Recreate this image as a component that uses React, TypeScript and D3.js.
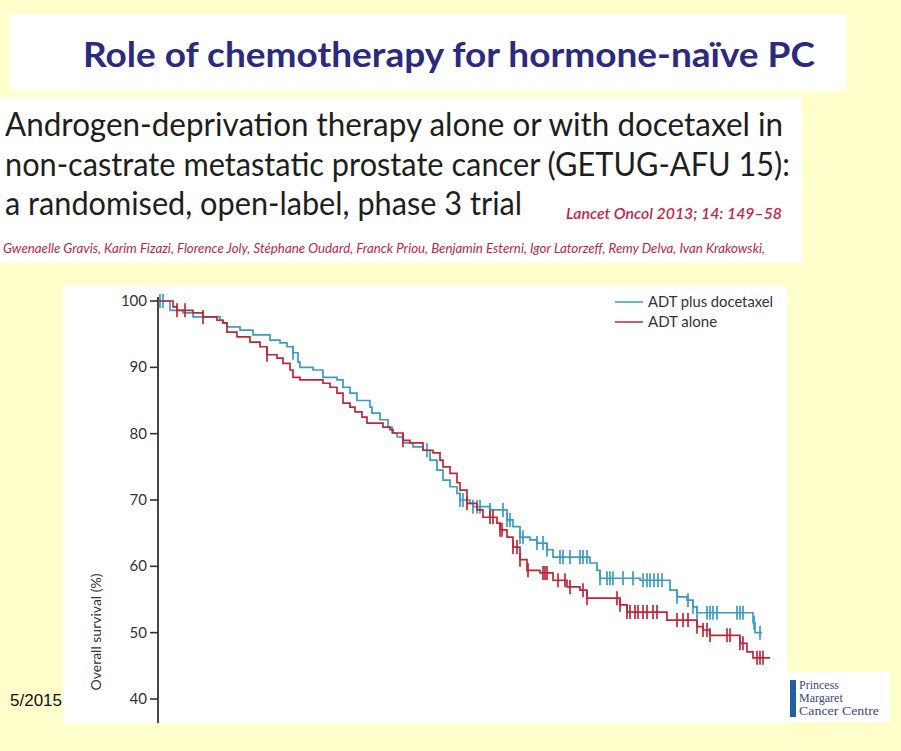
import React from "react";
import * as d3 from "d3";

// ---- Data (time in months, survival in %) ----
const seriesNames = ["ADT plus docetaxel", "ADT alone"];
const yTicks = [40, 50, 60, 70, 80, 90, 100];

const docetaxelSteps: [number, number][] = [
  [0, 100], [1.2, 98.6], [2.5, 98.2], [3.5, 97.6], [6.2, 97.1], [6.5, 96.7], [6.9, 96.1],
  [8.2, 95.6], [9.5, 94.9], [11.2, 94.1], [12.2, 93.7], [12.9, 93.1], [13.5, 92.2],
  [14.0, 90.8], [14.2, 90.0], [15.5, 89.6], [16.5, 88.5], [17.9, 88.1], [18.5, 87.0],
  [19.2, 86.1], [19.9, 85.0], [21.2, 84.0], [21.4, 83.1], [22.2, 82.1], [23.0, 81.0],
  [23.4, 80.1], [23.9, 79.5], [24.5, 78.6], [25.5, 78.0], [26.5, 77.5], [27.2, 76.0],
  [27.9, 74.5], [28.5, 73.0], [29.2, 72.0], [29.9, 71.0], [30.2, 70.0], [31.2, 69.5],
  [31.5, 69.0], [33.2, 68.5], [34.9, 67.0], [35.5, 66.0], [36.2, 64.4], [37.2, 64.0],
  [37.9, 63.5], [38.9, 62.5], [39.5, 61.4], [43.2, 60.5], [43.9, 59.4], [44.2, 58.2],
  [48.2, 57.9], [51.2, 56.4], [51.9, 55.4], [52.9, 54.9], [53.5, 53.9], [53.9, 53.0],
  [59.5, 51.5], [59.7, 50.0],
];
const docetaxelEnd = 60.4;
const docetaxelCensor = [
  0.2, 0.5, 13.5, 26.9, 30.2, 30.5, 31.5, 31.9, 32.2, 33.2, 34.5, 34.9, 35.2, 36.2, 36.5,
  37.9, 38.5, 38.9, 40.2, 40.5, 41.2, 42.2, 42.5, 42.9, 44.2, 44.9, 45.2, 45.5, 46.5, 47.5,
  48.5, 48.9, 49.2, 49.6, 50.0, 50.4, 51.9, 53.0, 53.5, 53.9, 54.9, 55.2, 55.5, 55.9, 57.9,
  58.2, 58.5, 59.6, 60.2,
];

const aloneSteps: [number, number][] = [
  [0, 100], [1.5, 99.1], [1.9, 98.6], [3.5, 98.2], [4.5, 97.6], [5.9, 97.1], [6.5, 96.7],
  [6.9, 95.3], [7.9, 94.6], [9.2, 93.8], [10.2, 93.1], [10.9, 91.9], [11.9, 91.4],
  [12.5, 90.6], [13.2, 89.6], [13.5, 88.5], [14.2, 88.1], [16.5, 87.6], [17.2, 87.0],
  [17.9, 86.1], [18.5, 84.6], [19.2, 84.0], [19.7, 83.3], [20.4, 82.5], [20.9, 81.6],
  [22.5, 81.0], [23.2, 80.6], [23.5, 80.1], [24.5, 79.0], [25.2, 78.6], [26.5, 77.5],
  [27.5, 77.1], [28.2, 76.0], [28.5, 75.0], [29.2, 74.0], [29.9, 72.6], [30.2, 71.5],
  [30.9, 69.5], [31.9, 68.5], [32.5, 67.4], [33.9, 66.5], [34.2, 65.5], [34.9, 64.4],
  [35.5, 62.9], [36.2, 61.0], [36.9, 59.4], [38.2, 59.0], [39.5, 57.9], [40.9, 56.9],
  [42.2, 56.4], [42.9, 55.2], [46.2, 54.2], [46.9, 53.1], [50.9, 51.9], [53.9, 50.9],
  [54.5, 50.4], [55.2, 49.6], [58.2, 48.4], [58.9, 47.1], [59.5, 46.2],
];
const aloneEnd = 61.2;
const aloneCensor = [
  1.9, 2.7, 4.5, 10.9, 24.5, 30.9, 33.2, 33.5, 34.2, 34.4, 35.5, 35.9, 36.2, 37.0, 38.5,
  38.7, 38.9, 40.0, 40.7, 41.2, 42.5, 42.9, 45.9, 46.2, 46.9, 47.2, 47.7, 48.0, 48.5, 48.9,
  49.5, 49.9, 51.9, 52.5, 53.0, 53.9, 54.5, 54.9, 55.2, 56.9, 57.2, 58.2, 58.5, 59.9, 60.2,
  60.5,
];

const BLUE = "#3a9cc2";
const RED = "#c0263a";
const BG = "#ffffcc";

function valueAt(steps: [number, number][], t: number) {
  let v = steps[0][1];
  for (const [s, val] of steps) {
    if (s <= t) v = val;
    else break;
  }
  return v;
}

export default function App() {
  const x = d3.scaleLinear().domain([0, 60]).range([158, 758]);
  const y = d3.scaleLinear().domain([40, 100]).range([699, 301]);
  const line = d3
    .line<[number, number]>()
    .x((d) => x(d[0]))
    .y((d) => y(d[1]))
    .curve(d3.curveStepAfter);

  const series = [
    { name: seriesNames[0], steps: docetaxelSteps, end: docetaxelEnd, censor: docetaxelCensor, color: BLUE, legendWidth: 125 },
    { name: seriesNames[1], steps: aloneSteps, end: aloneEnd, censor: aloneCensor, color: RED, legendWidth: 0 },
  ];

  const font = "Lato, 'Open Sans', sans-serif";

  return (
    <svg
      width={901}
      height={751}
      style={{ position: "absolute", left: 0, top: 0, display: "block" }}
    >
      <rect x={0} y={0} width={901} height={751} fill={BG} />

      {/* Slide title */}
      <rect x={10} y={14} width={836} height={77} fill="#ffffff" />
      <text
        x={83}
        y={67}
        fontFamily={font}
        fontWeight={700}
        fontSize={34}
        fill="#2b2a7e"
        textLength={732}
        lengthAdjust="spacingAndGlyphs"
      >
        Role of chemotherapy for hormone-naïve PC
      </text>

      {/* Paper header */}
      <rect x={0} y={97} width={802} height={166} fill="#ffffff" />
      <g fontFamily={font} fontSize={32} fill="#1e1e1e">
        <text x={5} y={136} textLength={778} lengthAdjust="spacingAndGlyphs">
          Androgen-deprivation therapy alone or with docetaxel in
        </text>
        <text x={5} y={176} textLength={785} lengthAdjust="spacingAndGlyphs">
          non-castrate metastatic prostate cancer (GETUG-AFU 15):
        </text>
        <text x={5} y={215} textLength={517} lengthAdjust="spacingAndGlyphs">
          a randomised, open-label, phase 3 trial
        </text>
      </g>
      <text
        x={566}
        y={219}
        fontFamily={font}
        fontSize={16}
        fontWeight={600}
        fontStyle="italic"
        fill="#c0284a"
        textLength={216}
        lengthAdjust="spacingAndGlyphs"
      >
        Lancet Oncol 2013; 14: 149–58
      </text>
      <text
        x={3}
        y={253}
        fontFamily={font}
        fontSize={14}
        fontStyle="italic"
        fill="#b8284a"
        textLength={762}
        lengthAdjust="spacingAndGlyphs"
      >
        Gwenaelle Gravis, Karim Fizazi, Florence Joly, Stéphane Oudard, Franck Priou, Benjamin Esterni, Igor Latorzeff, Remy Delva, Ivan Krakowski,
      </text>

      {/* Chart panel */}
      <rect x={63} y={285} width={724} height={438} fill="#ffffff" />

      {/* Y axis */}
      <line x1={158} x2={158} y1={297} y2={723} stroke="#333" strokeWidth={1.8} />
      {yTicks.map((t) => (
        <g key={t}>
          <line x1={150} x2={158} y1={y(t)} y2={y(t)} stroke="#333" strokeWidth={1.6} />
          <text
            x={147}
            y={y(t) + 5}
            textAnchor="end"
            fontFamily={font}
            fontSize={15}
            fill="#333"
          >
            {t}
          </text>
        </g>
      ))}
      <text
        transform={`translate(101,632) rotate(-90)`}
        textAnchor="middle"
        fontFamily={font}
        fontSize={14}
        fill="#333"
      >
        Overall survival (%)
      </text>

      {/* Curves */}
      {series.map((s) => {
        const pts: [number, number][] = [...s.steps, [s.end, s.steps[s.steps.length - 1][1]]];
        return (
          <g key={s.name}>
            <path d={line(pts) || ""} fill="none" stroke={s.color} strokeWidth={1.7} />
            {s.censor.map((c, i) => {
              const v = valueAt(s.steps, c);
              return (
                <line
                  key={i}
                  x1={x(c)}
                  x2={x(c)}
                  y1={y(v) - 7}
                  y2={y(v) + 7}
                  stroke={s.color}
                  strokeWidth={1.7}
                />
              );
            })}
          </g>
        );
      })}

      {/* Legend */}
      {series.map((s, i) => (
        <g key={s.name} transform={`translate(615,${302 + i * 20})`}>
          <line x1={0} x2={28} y1={0} y2={0} stroke={s.color} strokeWidth={1.5} />
          {s.legendWidth ? (
            <text x={33} y={5} fontFamily={font} fontSize={15} fill="#333" textLength={s.legendWidth} lengthAdjust="spacingAndGlyphs">
              {s.name}
            </text>
          ) : (
            <text x={33} y={5} fontFamily={font} fontSize={15} fill="#333">
              {s.name}
            </text>
          )}
        </g>
      ))}

      {/* Footer */}
      <text x={62} y={706} textAnchor="end" fontFamily="Arial, 'Liberation Sans', sans-serif" fontSize={17} fill="#111">
        5/2015
      </text>
      <rect x={787} y={672} width={103} height={50} fill="#ffffff" />
      <rect x={790} y={680} width={6} height={37} fill="#1f5fa8" />
      <g fontFamily="'Liberation Serif', 'DejaVu Serif', serif" fontSize={12} fill="#3a4a7a">
        <text x={799} y={689}>Princess</text>
        <text x={799} y={702}>Margaret</text>
        <text x={799} y={715} textLength={80} lengthAdjust="spacingAndGlyphs">Cancer Centre</text>
      </g>
    </svg>
  );
}
